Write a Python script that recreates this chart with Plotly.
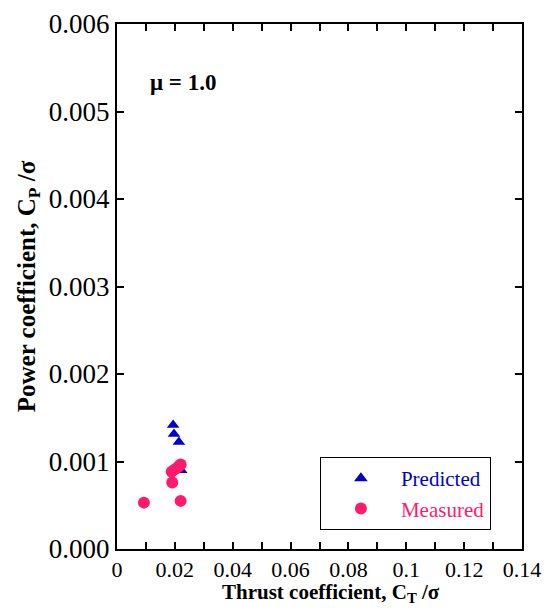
import plotly.graph_objects as go

pred_ct = [0.0194, 0.0197, 0.0214, 0.0222]
pred_cp = [0.001417, 0.001314, 0.001223, 0.000900]
meas_ct = [0.0093, 0.0220, 0.0191, 0.0189, 0.0200, 0.0212, 0.0220]
meas_cp = [0.00053, 0.00055, 0.00076, 0.000883, 0.000910, 0.000940, 0.000967]

x_tickvals = [0, 0.01, 0.02, 0.03, 0.04, 0.05, 0.06, 0.07, 0.08, 0.09, 0.10, 0.11, 0.12, 0.13, 0.14]
x_ticktext = ["0", "", "0.02", "", "0.04", "", "0.06", "", "0.08", "", "0.1", "", "0.12", "", "0.14"]

blue = "#0000CC"
pink = "#FF1A6E"
font = "Liberation Serif"

fig = go.Figure()
fig.add_trace(go.Scatter(x=pred_ct, y=pred_cp, mode="markers",
                         name="<span style='color:%s'>Predicted</span>" % blue,
                         marker=dict(symbol="triangle-up", size=11, color=blue)))
fig.add_trace(go.Scatter(x=meas_ct, y=meas_cp, mode="markers",
                         name="<span style='color:%s'>Measured</span>" % pink,
                         marker=dict(symbol="circle", size=12, color=pink)))

axis_common = dict(showline=True, linecolor="black", linewidth=2, mirror="allticks",
                   ticks="inside", ticklen=7, tickwidth=1.5, tickcolor="black",
                   showgrid=False, zeroline=False, automargin=False)

fig.update_xaxes(range=[0, 0.14], tickvals=x_tickvals, ticktext=x_ticktext,
                 tickfont=dict(family=font, size=22, color="black"),
                 **axis_common)
fig.update_yaxes(range=[0, 0.006], dtick=0.001, tickformat=".3f",
                 tickfont=dict(family=font, size=27, color="black"),
                 title=dict(text="<b>Power coefficient, C<sub>P</sub> /σ</b>",
                            font=dict(family=font, size=25, color="black"), standoff=6),
                 **axis_common)

# x-axis title placed as annotation (slightly right of centre, like the reference)
fig.add_annotation(x=0.5, y=0, xref="paper", yref="paper", xshift=11, yshift=-44,
                   text="<b>Thrust coefficient, C<sub>T</sub> /σ</b>",
                   showarrow=False, xanchor="center", yanchor="middle",
                   font=dict(family=font, size=21, color="black"))

fig.add_annotation(x=0.0107, y=0.00533, xref="x", yref="y", text="<b>μ = 1.0</b>",
                   showarrow=False, xanchor="left", yanchor="middle",
                   font=dict(family=font, size=23, color="black"))

fig.update_layout(width=547, height=613, margin=dict(l=117, r=25, t=24, b=64),
                  plot_bgcolor="white", paper_bgcolor="white",
                  legend=dict(x=0.501, y=0.175, xanchor="left", yanchor="top",
                              bordercolor="black", borderwidth=1, bgcolor="white",
                              font=dict(family=font, size=21), itemsizing="constant",
                              itemwidth=70, entrywidth=94, tracegroupgap=5),
                  showlegend=True)

fig.write_html("out.html", config={"displayModeBar": False},
               post_script="document.body.style.margin='0';document.body.style.padding='0';")
